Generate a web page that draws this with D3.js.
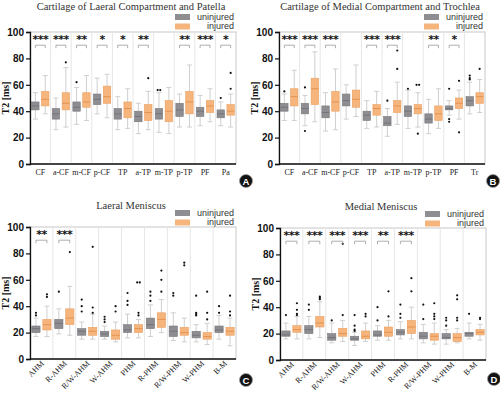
<!DOCTYPE html>
<html><head><meta charset="utf-8">
<script src="https://cdn.jsdelivr.net/npm/d3@7"></script>
<style>body{margin:0;background:#fff}svg{display:block}</style>
</head><body>
<svg id="c" width="500" height="393"></svg>
<script>
// ---- Data: [low whisker, Q1, median, Q3, high whisker] ----
const yTicks = [0, 20, 40, 60, 80, 100];
const seriesNames = ["uninjured", "injured"];

const catA = ["CF","a-CF","m-CF","p-CF","TP","a-TP","m-TP","p-TP","PF","Pa"];
const aUninj = [[34,41,44,47,54],[26,34,38,42,50],[30,40,43,47,58],[38,45,49,53,65],[26,34,38,42,51],[23,32,36,40,46],[24,34,38,42,54],[28,36,41,46,53],[29,36,40,43,52],[29,35,38,41,47]];
const aInj   = [[38,44,49,55,67],[28,41,46,54,73],[33,43,47,54,67],[35,46,51,59,68],[27,35,42,47,57],[26,33,39,45,55],[23,32,40,48,58],[28,38,47,55,75],[32,39,44,48,57],[28,37,40,45,53]];
const aOutUninj = [[],[],[62],[],[],[],[56,56],[],[],[50]];
const aOutInj   = [[],[77],[],[],[],[65],[],[],[],[57,69]];
const aSig = ["***","***","**","*","*","**","","**","***","*"];

const catB = ["CF","a-CF","m-CF","p-CF","TP","a-TP","m-TP","p-TP","PF","Tr"];
const bUninj = [[33,40,43,46,53],[29,38,42,46,52],[25,35,39,44,54],[34,44,48,53,60],[27,33,37,40,48],[21,29,31,36,42],[27,36,40,44,56],[23,31,34,38,49],[37,41,42,44,48],[38,44,48,51,62]];
const bInj   = [[33,44,51,57,71],[32,45,57,65,85],[26,40,47,55,72],[36,43,49,56,75],[28,37,42,45,55],[30,39,44,48,62],[28,38,42,45,54],[27,33,38,44,57],[34,42,46,50,56],[39,46,51,54,64]];
const bOutUninj = [[55],[58,25],[],[],[],[48],[57],[],[57,34,32],[64,65,67]];
const bOutInj   = [[],[],[],[],[],[72,86],[60,60,23],[],[63,24],[72]];
const bSig = ["***","***","***","","***","***","","**","*",""];

const catC = ["AHM","R-AHM","R/W-AHM","W-AHM","PHM","R-PHM","R/W-PHM","W-PHM","B-M"];
const cUninj = [[17,20,23,25,31],[19,23,27,30,38],[15,18,21,23,28],[15,17,19,21,25],[16,20,22,26,34],[17,23,26,31,41],[14,17,21,25,35],[13,16,18,21,26],[15,20,22,25,33]];
const cInj   = [[17,22,26,30,40],[18,26,31,38,55],[15,18,21,24,34],[13,15,18,22,28],[16,20,23,26,30],[20,24,30,35,45],[13,18,20,24,31],[11,15,17,20,27],[10,18,21,24,31]];
const cOutUninj = [[33,35],[51],[36,40,45],[28,30,32],[41,44,50],[44,48,51],[48,50],[33,34,35,48],[35,40]];
const cOutInj   = [[47,49],[81],[35,39,85],[36,40],[33,35,58,58],[51,60,67],[71,73],[30,35,51],[33,36,48]];
const cSig = ["**","***","","","","","","",""];

const catD = ["AHM","R-AHM","R/W-AHM","W-AHM","PHM","R-PHM","R/W-PHM","W-PHM","B-M"];
const dUninj = [[16,18,19,22,28],[16,20,23,26,33],[13,15,17,20,28],[11,15,16,18,21],[15,18,19,22,26],[16,19,21,23,29],[13,16,18,21,27],[12,16,17,20,23],[16,18,20,21,28]];
const dInj   = [[16,21,23,26,33],[17,25,28,33,44],[14,18,20,24,30],[14,16,18,22,28],[15,18,21,25,30],[16,20,25,30,40],[12,15,18,20,28],[13,14,17,20,24],[15,19,21,23,27]];
const dOutUninj = [[34],[38,42],[30],[22,23,26,34],[30,40],[32,35,42],[31,42],[26,30,32],[35]];
const dOutInj   = [[34,35,38,43],[46,47,48],[34,88],[33,35],[33,52],[52,62],[31,33,35,43],[30,32,46,49],[31,32]];
const dSig = ["***","***","***","***","**","***","","",""];

// ---- Drawing ----
const svg = d3.select("#c");
const colors = {
  uninj: {fill:"#8d8d92", stroke:"#78787c", median:"#6e6e72"},
  inj: {fill:"#f6b57d", stroke:"#e99e5e", median:"#de8a45"}
};

function panel(cfg) {
  const g = svg.append("g").attr("transform", `translate(${cfg.ox},${cfg.oy})`);
  const left = 30, right = 236, top = cfg.top, bottom = cfg.top + 132;
  const x = d3.scaleBand().domain(cfg.cats).range([left, right]);
  const y = d3.scaleLinear().domain([0, 100]).range([bottom, top]);
  const bw = x.bandwidth();
  const off = bw * 0.24, boxW = bw * 0.36;

  // title
  g.append("text").attr("x", 131).attr("y", cfg.titleY).attr("text-anchor", "middle")
    .attr("font-family", "Liberation Serif, Times New Roman, serif").attr("font-size", 10.5)
    .attr("fill", "#333").text(cfg.title);

  // legend
  const lg = g.append("g");
  [["uninj", seriesNames[0]], ["inj", seriesNames[1]]].forEach((s, i) => {
    const ly = cfg.legY + i * 9.5;
    lg.append("rect").attr("x", 175).attr("y", ly).attr("width", 15).attr("height", 6)
      .attr("fill", colors[s[0]].fill);
    lg.append("text").attr("x", 234).attr("y", ly + 5.5).attr("text-anchor", "end")
      .attr("font-family", "Liberation Sans, Arial, sans-serif").attr("font-size", 9)
      .attr("fill", "#333").text(s[1]);
  });

  // frame
  g.append("rect").attr("x", left).attr("y", top).attr("width", right - left).attr("height", bottom - top)
    .attr("fill", "none").attr("stroke", "#c8c8c8").attr("stroke-width", 1);
  // separators
  cfg.cats.slice(1).forEach(c => {
    g.append("line").attr("x1", x(c)).attr("x2", x(c)).attr("y1", top).attr("y2", bottom)
      .attr("stroke", "#e6e6e6").attr("stroke-width", 1);
  });

  // boxes
  function drawBox(cx, st, outs, col) {
    const [lo, q1, md, q3, hi] = st;
    const bg = g.append("g");
    bg.append("line").attr("x1", cx).attr("x2", cx).attr("y1", y(lo)).attr("y2", y(q1))
      .attr("stroke", "#cfcfcf").attr("stroke-width", 1);
    bg.append("line").attr("x1", cx).attr("x2", cx).attr("y1", y(q3)).attr("y2", y(hi))
      .attr("stroke", "#cfcfcf").attr("stroke-width", 1);
    [lo, hi].forEach(v => bg.append("line").attr("x1", cx - 2.5).attr("x2", cx + 2.5)
      .attr("y1", y(v)).attr("y2", y(v)).attr("stroke", "#cfcfcf").attr("stroke-width", 1));
    bg.append("rect").attr("x", cx - boxW / 2).attr("y", y(q3)).attr("width", boxW)
      .attr("height", y(q1) - y(q3)).attr("fill", col.fill).attr("stroke", col.stroke).attr("stroke-width", 0.6);
    bg.append("line").attr("x1", cx - boxW / 2).attr("x2", cx + boxW / 2).attr("y1", y(md)).attr("y2", y(md))
      .attr("stroke", col.median).attr("stroke-width", 0.8);
    outs.forEach((v, k) => {
      const dup = outs.filter(o => o === v).length > 1;
      const idx = outs.slice(0, k).filter(o => o === v).length;
      const dx = dup ? (idx === 0 ? -1.3 : 1.3) : 0;
      bg.append("circle").attr("cx", cx + dx).attr("cy", y(v)).attr("r", 1.1).attr("fill", "#111");
    });
  }
  cfg.cats.forEach((c, i) => {
    const cx = x(c) + bw / 2;
    drawBox(cx - off, cfg.unin[i], cfg.outU[i], colors.uninj);
    drawBox(cx + off, cfg.inj[i], cfg.outI[i], colors.inj);
    if (cfg.sig[i]) {
      const by = y(90);
      g.append("path").attr("d", `M${cx - off},${by + 3}V${by}H${cx + off}V${by + 3}`)
        .attr("fill", "none").attr("stroke", "#999").attr("stroke-width", 0.8);
      g.append("text").attr("x", cx).attr("y", y(91.5)).attr("text-anchor", "middle")
        .attr("font-family", "DejaVu Sans, sans-serif").attr("font-weight", "bold")
        .attr("font-size", 11).attr("letter-spacing", "-0.5").attr("fill", "#111").text(cfg.sig[i]);
    }
  });

  // y axis
  const ya = g.append("g").attr("transform", `translate(${left},0)`)
    .call(d3.axisLeft(y).tickValues(yTicks).tickSize(4).tickPadding(2));
  ya.select(".domain").attr("stroke", "#111").attr("stroke-width", 1.3);
  ya.selectAll(".tick line").attr("stroke", "#111").attr("stroke-width", 1.2);
  ya.selectAll(".tick text").attr("font-family", "Liberation Sans, Arial, sans-serif")
    .attr("font-weight", "bold").attr("font-size", 10).attr("fill", "#111");
  // x axis line
  g.append("line").attr("x1", left).attr("x2", right).attr("y1", bottom).attr("y2", bottom)
    .attr("stroke", "#111").attr("stroke-width", 1.3);

  // y label
  g.append("text").attr("transform", `translate(9,${(top + bottom) / 2}) rotate(-90)`)
    .attr("text-anchor", "middle").attr("font-family", "Liberation Serif, Times New Roman, serif")
    .attr("font-weight", "bold").attr("font-size", 10).attr("fill", "#111").text("T2 [ms]");

  // x labels
  cfg.cats.forEach(c => {
    const cx = x(c) + bw / 2;
    const t = g.append("text").attr("font-family", "Liberation Serif, Times New Roman, serif")
      .attr("font-size", 8).attr("fill", "#222").text(c);
    if (cfg.rotate) {
      t.attr("text-anchor", "end").attr("transform", `translate(${cx + 3},${bottom + 5}) rotate(-45)`);
    } else {
      t.attr("text-anchor", "middle").attr("x", cx).attr("y", bottom + 10.5);
    }
  });

  // panel letter
  g.append("circle").attr("cx", cfg.letterX).attr("cy", cfg.letterY).attr("r", 6.5).attr("fill", "#111")
    .attr("stroke", "#999").attr("stroke-width", 0.8);
  g.append("text").attr("x", cfg.letterX).attr("y", cfg.letterY + 3.5).attr("text-anchor", "middle")
    .attr("font-family", "Liberation Sans, Arial, sans-serif").attr("font-weight", "bold")
    .attr("font-size", 9.5).attr("fill", "#fff").text(cfg.letter);
}

panel({ox:0, oy:0, top:32, titleY:10, legY:14, title:"Cartilage of Laeral Compartment and Patella",
  cats:catA, unin:aUninj, inj:aInj, outU:aOutUninj, outI:aOutInj, sig:aSig, rotate:false,
  letter:"A", letterX:246, letterY:181});
panel({ox:249, oy:0, top:32, titleY:10, legY:14, title:"Cartilage of Medial Compartment and Trochlea",
  cats:catB, unin:bUninj, inj:bInj, outU:bOutUninj, outI:bOutInj, sig:bSig, rotate:false,
  letter:"B", letterX:244, letterY:181});
panel({ox:0, oy:195, top:32, titleY:14, legY:15, title:"Laeral Meniscus",
  cats:catC, unin:cUninj, inj:cInj, outU:cOutUninj, outI:cOutInj, sig:cSig, rotate:true,
  letter:"C", letterX:246, letterY:185});
panel({ox:250, oy:196, top:32, titleY:14, legY:15, title:"Medial Meniscus",
  cats:catD, unin:dUninj, inj:dInj, outU:dOutUninj, outI:dOutInj, sig:dSig, rotate:true,
  letter:"D", letterX:244, letterY:183});
</script>
</body></html>
